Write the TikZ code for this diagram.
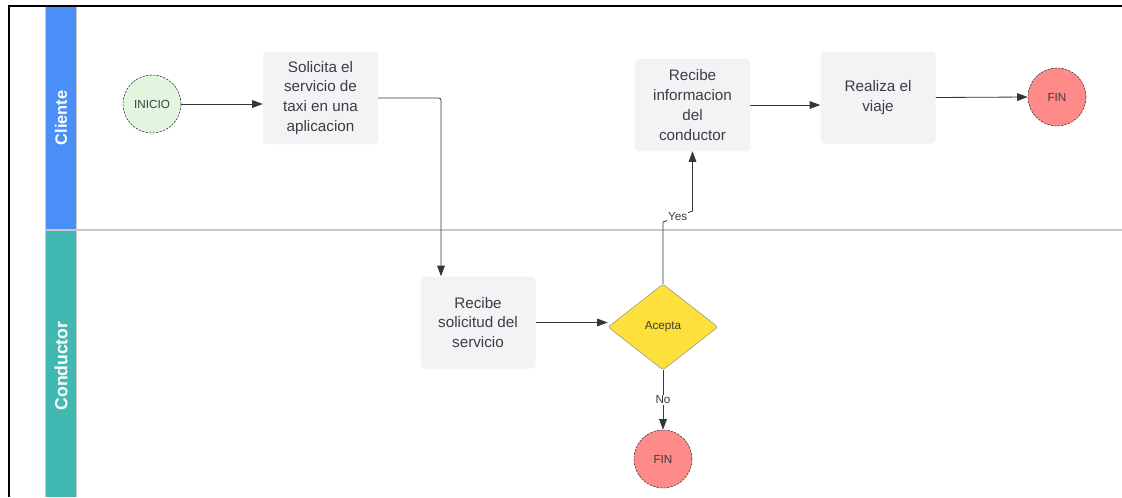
\documentclass[tikz,border=0pt]{standalone}
\usepackage{fontspec}
\setmainfont{Liberation Sans}
\definecolor{mLaneBlue}{HTML}{4A8FF7}
\definecolor{mLaneTeal}{HTML}{41B8B2}
\definecolor{mBoxGray}{HTML}{F2F3F5}
\definecolor{mTextGray}{HTML}{3B3D42}
\definecolor{mArrowGray}{HTML}{33363B}
\definecolor{mStartGreen}{HTML}{E3F7E0}
\definecolor{mEndRed}{HTML}{FF8A8A}
\definecolor{mGateYellow}{HTML}{FDE03C}
\definecolor{mLineGray}{HTML}{C8C8C8}
\usetikzlibrary{positioning,arrows.meta,calc,shapes.geometric}

\begin{document}
\begin{tikzpicture}[x=0.03cm, y=-0.03cm, font=\fontsize{13}{17}\selectfont,
  task/.style={fill=mBoxGray, rounded corners=3pt, text=mTextGray, align=center,
    minimum width=3.45cm, minimum height=2.76cm, inner sep=0pt},
  endpt/.style={circle, draw=mTextGray, dash pattern=on 2pt off 1pt, line width=0.5pt,
    minimum size=1.74cm, inner sep=0pt, text=mTextGray, font=\fontsize{10}{12}\selectfont},
  gate/.style={diamond, fill=mGateYellow, draw=mTextGray!60, line width=0.4pt,
    minimum width=3.3cm, minimum height=2.58cm, inner sep=0pt, rounded corners=2pt,
    text=mTextGray, font=\fontsize{10}{12}\selectfont},
  flow/.style={draw=mArrowGray, line width=0.7pt, -{Triangle[length=9pt, width=6.5pt]}},
  tag/.style={fill=white, inner sep=1pt, text=mTextGray, font=\fontsize{10}{12}\selectfont}]
\useasboundingbox (0,0) rectangle (1122,497);
% frame
\draw[line width=1.6pt] (9,497) -- (9,6) -- (1122,6);
% lanes
\fill[mLaneBlue] (45,7) rectangle (76,230);
\fill[mLaneTeal] (45,230) rectangle (76,497);
\draw[mLineGray, line width=0.8pt] (45,7) -- (45,497);
\draw[mLineGray, line width=0.8pt] (76,7) -- (76,497);
\draw[mLineGray, line width=1.8pt] (45,230) -- (1122,230);
\node[rotate=90, white, font=\bfseries\fontsize{14}{14}\selectfont] (cliente) at (61,118) {Cliente};
\node[rotate=90, white, font=\bfseries\fontsize{15}{15}\selectfont] (conductor) at (61,366) {Conductor};
% nodes
\node[endpt, fill=mStartGreen] (inicio) at (152,104) {INICIO};
\node[task] (solicita) at (320.5,98) {Solicita el\\servicio de\\taxi en una\\aplicacion};
\node[task] (recSol) at (478,322.5) {Recibe\\solicitud del\\servicio};
\node[gate] (acepta) at (663,327) {Acepta};
\node[endpt, fill=mEndRed] (finNo) at (663,459) {FIN};
\node[task] (recInfo) at (692.5,105) {Recibe\\informacion\\del\\conductor};
\node[task] (viaje) at (878,97.5) {Realiza el\\viaje};
\node[endpt, fill=mEndRed] (finViaje) at (1057,97) {FIN};
% connectors
\coordinate (bendSol) at (441,98);
\coordinate (yesLow) at (663,222);
\coordinate (yesHigh) at (692.5,211);
\draw[flow] (inicio.east) -- (inicio.east -| solicita.west);
\draw[flow, rounded corners=2pt] (solicita.east) -- (bendSol) -- (bendSol |- recSol.north);
\draw[flow] (recSol.east) -- (recSol.east -| acepta.west);
\draw[flow] (acepta.north) -- (yesLow) -- node[tag]{Yes} (yesHigh) -- (recInfo.south);
\draw[flow] (acepta.south) -- node[tag]{No} (finNo.north);
\draw[flow] (recInfo.east) -- (recInfo.east -| viaje.west);
\draw[flow] (viaje.east) -- (finViaje.west);
\end{tikzpicture}
\end{document}
